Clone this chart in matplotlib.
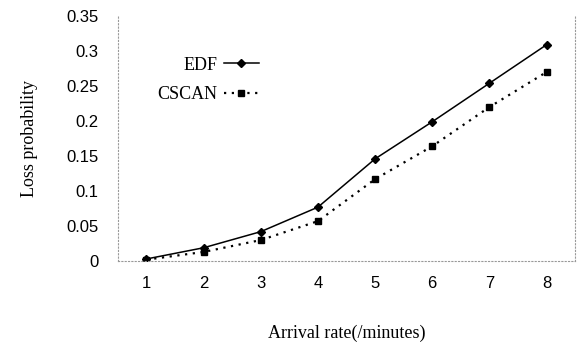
import matplotlib
matplotlib.use("Agg")
import matplotlib.pyplot as plt

arrival_rate = [1, 2, 3, 4, 5, 6, 7, 8]
edf_loss = [0.003, 0.019, 0.042, 0.077, 0.146, 0.199, 0.254, 0.309]
cscan_loss = [0.002, 0.013, 0.030, 0.057, 0.117, 0.164, 0.220, 0.270]
y_ticks = [0, 0.05, 0.1, 0.15, 0.2, 0.25, 0.3, 0.35]
y_tick_labels = ["0", "0.05", "0.1", "0.15", "0.2", "0.25", "0.3", "0.35"]

fig = plt.figure(figsize=(5.78, 3.49), dpi=100)
ax = fig.add_axes([0.204, 0.252, 0.791, 0.702])

ax.plot(arrival_rate, edf_loss, color="black", linewidth=1.1, marker="D",
        markersize=4.5, label="EDF")
ax.plot(arrival_rate, cscan_loss, color="black", linewidth=1.6, linestyle=(0, (1, 2.5)),
        marker="s", markersize=5, label="CSCAN")

ax.set_xlim(0.5, 8.5)
ax.set_ylim(0, 0.35)
ax.set_xticks(arrival_rate)
ax.set_yticks(y_ticks)
ax.set_yticklabels(y_tick_labels)
ax.tick_params(axis="x", length=0, labelsize=12, pad=11)
ax.tick_params(axis="y", length=0, labelsize=12, pad=14)
for lbl in ax.get_xticklabels() + ax.get_yticklabels():
    lbl.set_family("Liberation Sans")

ax.spines["top"].set_visible(False)
for side in ("left", "right", "bottom"):
    ax.spines[side].set_color("#999999")
    ax.spines[side].set_linestyle((0, (1, 2)))
    ax.spines[side].set_linewidth(0.8)

ax.set_xlabel("Arrival rate(/minutes)", family="Liberation Serif", fontsize=13, labelpad=24)
ax.set_ylabel("Loss probability", family="Liberation Serif", fontsize=13, labelpad=20)

ax.legend(loc="upper left", bbox_to_anchor=(0.05, 0.9), frameon=False, markerfirst=False,
          prop={"family": "Liberation Serif", "size": 13}, handlelength=1.9,
          handletextpad=0.4, labelspacing=0.7)

fig.savefig("out.png", dpi=100)
